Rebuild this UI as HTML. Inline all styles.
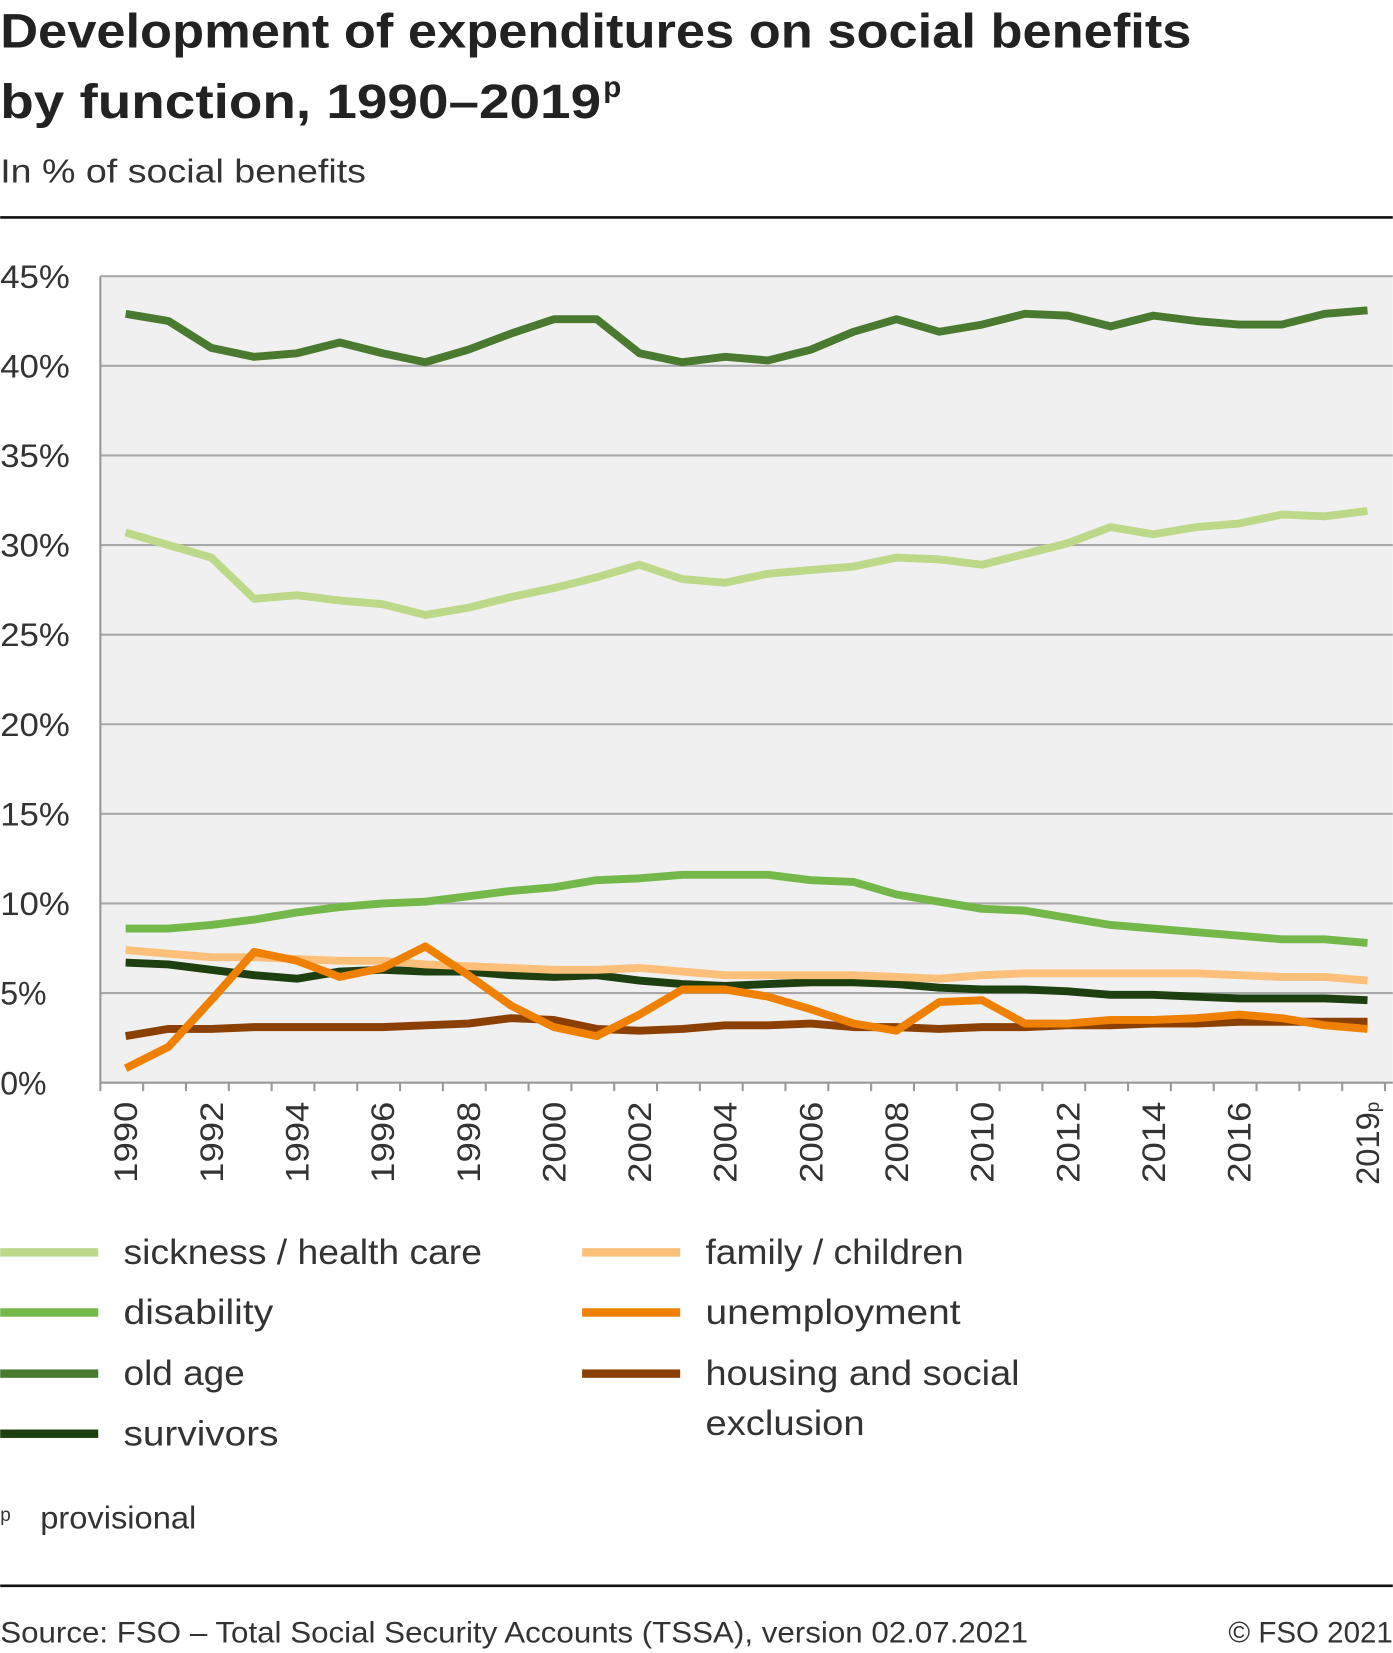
<!DOCTYPE html>
<html><head><meta charset="utf-8"><style>
html,body{margin:0;padding:0;background:#fff;}
svg{display:block;font-family:"Liberation Sans",sans-serif;}
</style></head><body>
<svg id="s" width="1393" height="1653" viewBox="0 0 1321 1568" xmlns="http://www.w3.org/2000/svg">
<text x="0" y="45" font-size="46" font-weight="bold" fill="#222" textLength="1130" lengthAdjust="spacingAndGlyphs">Development of expenditures on social benefits</text>
<text x="0" y="112" font-size="46" font-weight="bold" fill="#222" textLength="570" lengthAdjust="spacingAndGlyphs">by function, 1990–2019</text>
<text x="572" y="92" font-size="28" font-weight="bold" fill="#222">p</text>
<text x="0" y="173" font-size="32" fill="#333" textLength="347" lengthAdjust="spacingAndGlyphs">In % of social benefits</text>
<rect x="0" y="205" width="1321" height="2.5" fill="#111"/>
<rect x="95" y="262" width="1226" height="765" fill="#f0f0f0"/>
<g id="grid"></g>
<g id="series" fill="none" stroke-width="7.5" stroke-linejoin="round"></g>
<g id="leg"></g>
<text x="0" y="1443" font-size="18" fill="#333">p</text>
<text x="38" y="1450" font-size="30" fill="#333" textLength="148" lengthAdjust="spacingAndGlyphs">provisional</text>
<rect x="0" y="1503" width="1321" height="2.5" fill="#111"/>
<text x="0" y="1558" font-size="28" fill="#333" textLength="975" lengthAdjust="spacingAndGlyphs">Source: FSO – Total Social Security Accounts (TSSA), version 02.07.2021</text>
<text x="1321" y="1558" font-size="28" fill="#333" text-anchor="end">© FSO 2021</text>
</svg>
<script>
var NS="http://www.w3.org/2000/svg";
function el(p,t,a,txt){var e=document.createElementNS(NS,t);for(var k in a)e.setAttribute(k,a[k]);if(txt!==undefined)e.textContent=txt;p.appendChild(e);return e;}
var L=95,R=1321,T=262,B=1027;
function Y(v){return B-v*17;}
function X(i){return 119+i*40.62;}
var g=document.getElementById('grid');
for(var v=5;v<=45;v+=5){el(g,'line',{x1:L,x2:R,y1:Y(v),y2:Y(v),stroke:'#a8a8a8','stroke-width':2});}
for(var v=0;v<=45;v+=5){el(g,'text',{x:0,y:Y(v)+11,'font-size':31,fill:'#333',textLength:(v<10?44:66),lengthAdjust:'spacingAndGlyphs'},v+'%');}
el(g,'line',{x1:L,x2:L,y1:T,y2:B+8,stroke:'#999','stroke-width':2});
el(g,'line',{x1:L,x2:R,y1:B,y2:B,stroke:'#999','stroke-width':2});
for(var i=1;i<=30;i++){var x=L+i*40.62;el(g,'line',{x1:x,x2:x,y1:B,y2:B+8,stroke:'#999','stroke-width':2});}
for(var i=0;i<28;i+=2){var x=X(i)+11;el(g,'text',{x:x,y:1045,'font-size':31,fill:'#333','text-anchor':'end',textLength:77,lengthAdjust:'spacingAndGlyphs',transform:'rotate(-90 '+x+' 1045)'},String(1990+i));}
var x=X(29)+11;
var t=el(g,'text',{x:x,y:1045,'font-size':31,fill:'#333','text-anchor':'end',transform:'rotate(-90 '+x+' 1045)'});
el(t,'tspan',{},'2019');el(t,'tspan',{'font-size':18},'p');
var S=[
['#1e3f10',[6.7,6.6,6.3,6.0,5.8,6.2,6.3,6.2,6.2,6.0,5.9,6.0,5.7,5.5,5.4,5.5,5.6,5.6,5.5,5.3,5.2,5.2,5.1,4.9,4.9,4.8,4.7,4.7,4.7,4.6]],
['#8b4000',[2.6,3.0,3.0,3.1,3.1,3.1,3.1,3.2,3.3,3.6,3.5,3.0,2.9,3.0,3.2,3.2,3.3,3.1,3.1,3.0,3.1,3.1,3.2,3.2,3.3,3.3,3.4,3.4,3.4,3.4]],
['#fdc07a',[7.4,7.2,7.0,7.0,6.9,6.8,6.8,6.6,6.5,6.4,6.3,6.3,6.4,6.2,6.0,6.0,6.0,6.0,5.9,5.8,6.0,6.1,6.1,6.1,6.1,6.1,6.0,5.9,5.9,5.7]],
['#f08000',[0.8,2.0,4.6,7.3,6.8,5.9,6.4,7.6,6.0,4.3,3.1,2.6,3.8,5.2,5.2,4.8,4.1,3.3,2.9,4.5,4.6,3.3,3.3,3.5,3.5,3.6,3.8,3.6,3.2,3.0]],
['#74b84a',[8.6,8.6,8.8,9.1,9.5,9.8,10.0,10.1,10.4,10.7,10.9,11.3,11.4,11.6,11.6,11.6,11.3,11.2,10.5,10.1,9.7,9.6,9.2,8.8,8.6,8.4,8.2,8.0,8.0,7.8]],
['#bcd98a',[30.7,30.0,29.3,27.0,27.2,26.9,26.7,26.1,26.5,27.1,27.6,28.2,28.9,28.1,27.9,28.4,28.6,28.8,29.3,29.2,28.9,29.5,30.1,31.0,30.6,31.0,31.2,31.7,31.6,31.9]],
['#4a7a30',[42.9,42.5,41.0,40.5,40.7,41.3,40.7,40.2,40.9,41.8,42.6,42.6,40.7,40.2,40.5,40.3,40.9,41.9,42.6,41.9,42.3,42.9,42.8,42.2,42.8,42.5,42.3,42.3,42.9,43.1]]];
var sg=document.getElementById('series');
S.forEach(function(s){el(sg,'polyline',{stroke:s[0],points:s[1].map(function(v,i){return X(i).toFixed(1)+','+Y(v).toFixed(1);}).join(' ')});});
var lg=document.getElementById('leg');
var items=[[0,1188,'#bcd98a','sickness / health care',340],[0,1245,'#74b84a','disability',142],[0,1303,'#4a7a30','old age',115],[0,1360,'#1e3f10','survivors',147],
[552,1188,'#fdc07a','family / children',245],[552,1245,'#f08000','unemployment',242],[552,1303,'#8b4000','housing and social',298]];
items.forEach(function(it){el(lg,'rect',{x:it[0],y:it[1]-4,width:93,height:8,fill:it[2]});el(lg,'text',{x:it[0]+117,y:it[1]+11,'font-size':33,fill:'#333',textLength:it[4],lengthAdjust:'spacingAndGlyphs'},it[3]);});
el(lg,'text',{x:669,y:1361,'font-size':33,fill:'#333',textLength:151,lengthAdjust:'spacingAndGlyphs'},'exclusion');
</script>
</body></html>
